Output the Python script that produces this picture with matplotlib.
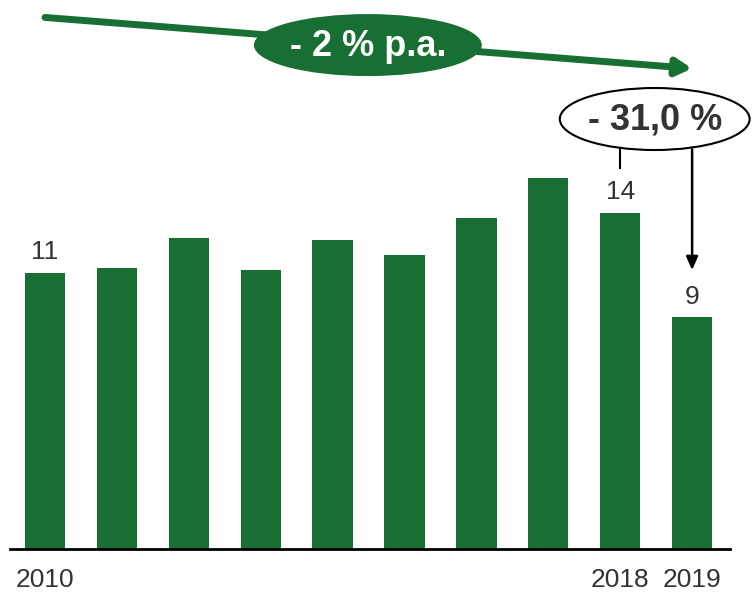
import matplotlib
matplotlib.use("Agg")
import matplotlib.pyplot as plt
from matplotlib.patches import Ellipse

years = list(range(2010, 2020))
values = [11.1, 11.3, 12.5, 11.2, 12.4, 11.8, 13.3, 14.9, 13.5, 9.3]
value_labels = {0: "11", 8: "14", 9: "9"}
year_labels = {0: "2010", 8: "2018", 9: "2019"}
trend_text = "- 2 % p.a."
change_text = "- 31,0 %"

green = "#186f33"
grey = "#333333"
plt.rcParams['font.family'] = ['Liberation Sans Narrow', 'Liberation Sans', 'DejaVu Sans']

fig = plt.figure(figsize=(7.54, 5.92), dpi=100)
ax = fig.add_axes([10 / 754, 43 / 592, 720 / 754, 549 / 592])
x = list(range(len(years)))
ax.bar(x, values, width=0.56, color=green)
ax.set_xlim(-0.487, 9.527)
ax.set_ylim(0, 22.05)
for s in ["top", "right", "left"]:
    ax.spines[s].set_visible(False)
ax.spines["bottom"].set_linewidth(2)
ax.set_yticks([])
ax.set_xticks([])

# value labels and years
for i, t in value_labels.items():
    ax.text(i, values[i] + 0.35, t, ha="center", va="bottom", fontsize=19, color=grey)
for i, t in year_labels.items():
    ax.text(i, -0.75, t, ha="center", va="top", fontsize=19, color=grey, clip_on=False)

# trend arrow with green ellipse
ax.annotate("", xy=(9.0, 19.3), xytext=(0, 21.35),
            arrowprops=dict(arrowstyle="-|>,head_length=0.9,head_width=0.5",
                            color=green, lw=5, shrinkA=0, shrinkB=0),
            annotation_clip=False)
ax.add_patch(Ellipse((4.49, 20.24), 3.17, 2.49, facecolor=green, edgecolor="none",
                     clip_on=False, zorder=3))
ax.text(4.49, 20.2, trend_text, ha="center", va="center", fontsize=26,
        fontweight="bold", color="white", zorder=4)

# change ellipse with connectors
ax.add_patch(Ellipse((8.48, 17.27), 2.64, 2.49, facecolor="white", edgecolor="black",
                     lw=1.5, clip_on=False, zorder=3))
ax.text(8.48, 17.25, change_text, ha="center", va="center", fontsize=26,
        fontweight="bold", color=grey, zorder=4)
ax.plot([8, 8], [16.05, 15.3], color="black", lw=1.5)
ax.annotate("", xy=(9, 11.2), xytext=(9, 16.05),
            arrowprops=dict(arrowstyle="-|>,head_length=0.8,head_width=0.35",
                            color="black", lw=1.8, shrinkA=0, shrinkB=0))

fig.savefig("out.png", dpi=100)
